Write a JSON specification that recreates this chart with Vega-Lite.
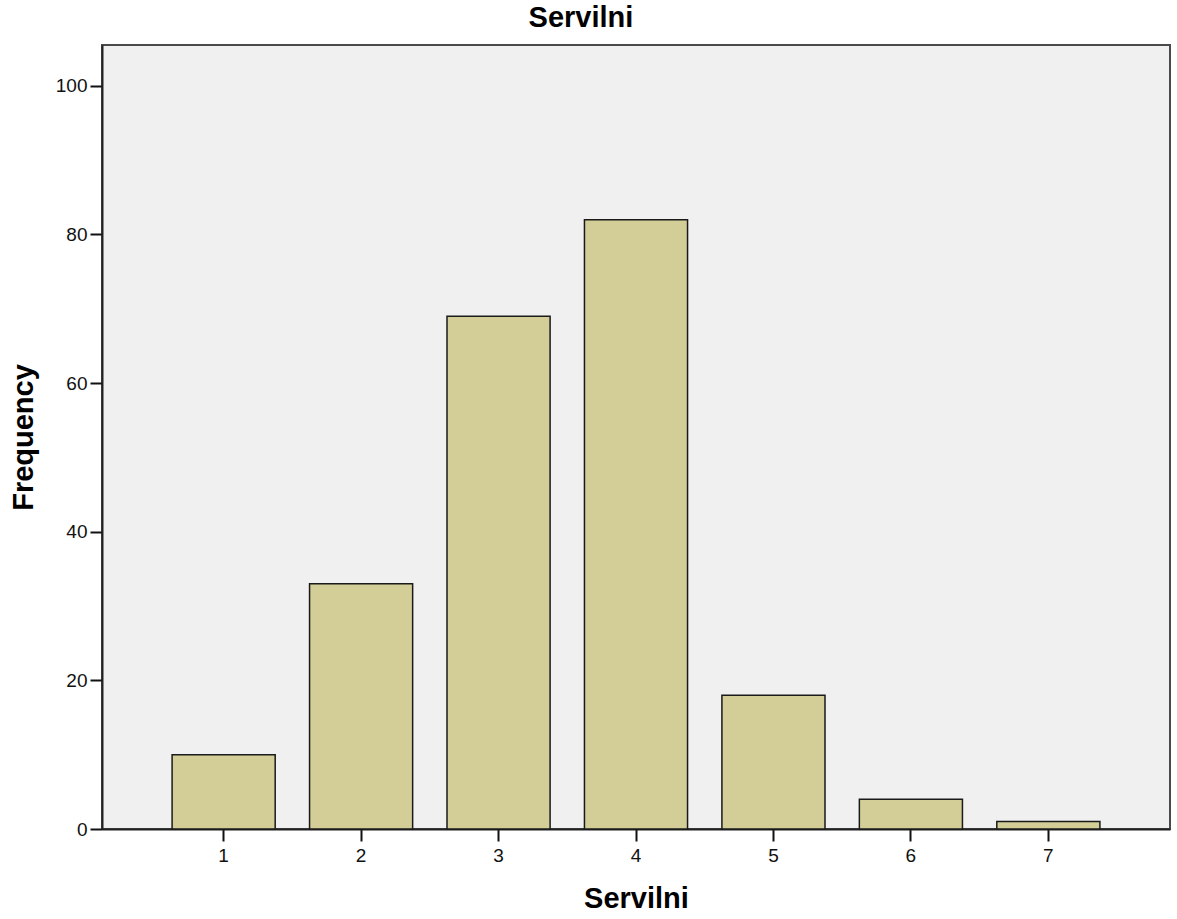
{
  "$schema": "https://vega.github.io/schema/vega-lite/v6.json",
  "width": 1068,
  "height": 784,
  "autosize": {"type": "none"},
  "padding": {"left": 102, "top": 45, "right": 7, "bottom": 90},
  "background": "white",
  "title": {
    "text": "Servilni",
    "anchor": "middle",
    "dx": -55,
    "offset": 12,
    "font": "Liberation Sans",
    "fontSize": 29,
    "fontWeight": "bold",
    "color": "#000000"
  },
  "config": {
    "view": {"fill": "#F0F0F0", "stroke": "#4a4a4a", "strokeWidth": 2},
    "axis": {
      "labelFont": "Liberation Sans",
      "labelFontSize": 19,
      "labelColor": "#111111",
      "titleFont": "Liberation Sans",
      "titleFontSize": 29,
      "titleFontWeight": "bold",
      "titleColor": "#000000",
      "grid": false,
      "domainColor": "#222222",
      "domainWidth": 2,
      "tickColor": "#111111",
      "tickWidth": 2,
      "tickSize": 12
    }
  },
  "data": {
    "values": [
      {"Servilni": 1, "Frequency": 10},
      {"Servilni": 2, "Frequency": 33},
      {"Servilni": 3, "Frequency": 69},
      {"Servilni": 4, "Frequency": 82},
      {"Servilni": 5, "Frequency": 18},
      {"Servilni": 6, "Frequency": 4},
      {"Servilni": 7, "Frequency": 1}
    ]
  },
  "mark": {"type": "bar", "fill": "#D3CE97", "stroke": "#1a1a1a", "strokeWidth": 1.5},
  "encoding": {
    "x": {
      "field": "Servilni",
      "type": "ordinal",
      "scale": {"paddingInner": 0.25, "paddingOuter": 0.51},
      "axis": {"labelAngle": 0, "labelPadding": 5, "titlePadding": 19, "title": "Servilni"}
    },
    "y": {
      "field": "Frequency",
      "type": "quantitative",
      "scale": {"domain": [0, 105.5], "nice": false},
      "axis": {"values": [0, 20, 40, 60, 80, 100], "labelPadding": 3, "titlePadding": 17, "title": "Frequency"}
    }
  }
}
